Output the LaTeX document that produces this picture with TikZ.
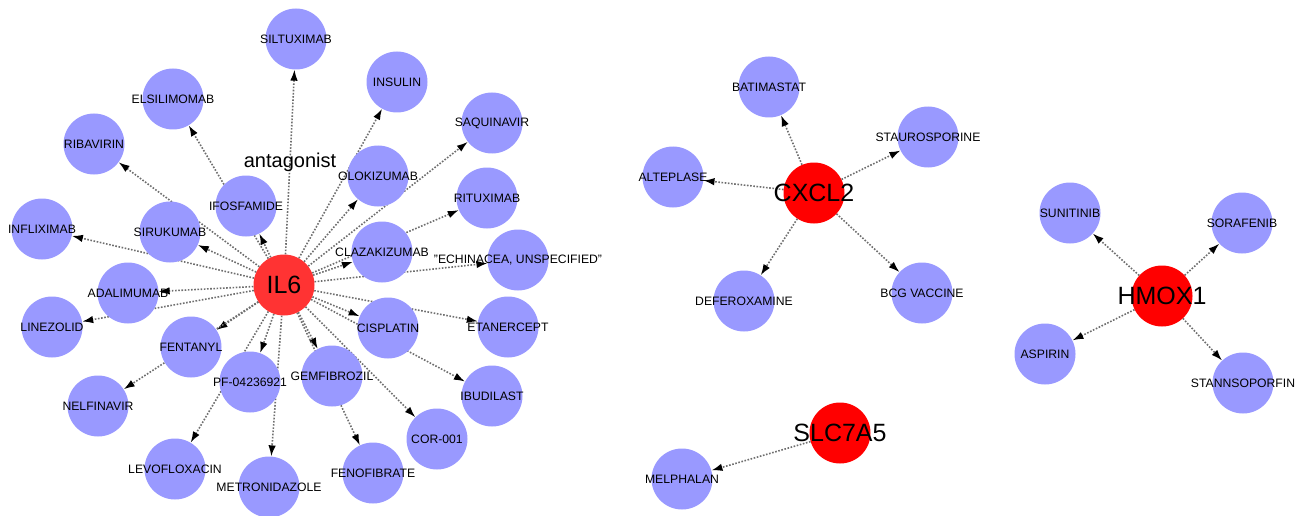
\documentclass[tikz,border=0pt]{standalone}
\usepackage{fontspec}
\setmainfont{Liberation Sans}
\usetikzlibrary{arrows.meta}
\pgfdeclarelayer{edges}
\pgfsetlayers{edges,main}
\definecolor{drug}{HTML}{9999FF}
\definecolor{gene}{HTML}{FF0000}
\definecolor{geneb}{HTML}{FF3333}
\definecolor{edgec}{HTML}{6E6E6E}
\tikzset{
  drugnode/.style={circle, fill=drug, minimum size=61pt, inner sep=0pt,
    label={[font=\fontsize{12.2}{12}\selectfont, text=black, inner sep=0pt]center:#1}},
  genenode/.style={circle, fill=gene, minimum size=61pt, inner sep=0pt,
    label={[font=\fontsize{25}{25}\selectfont, text=black, inner sep=0pt]center:#1}},
  link/.style={draw=edgec, line width=1.6pt, dash pattern=on 1.6pt off 1.6pt,
    -{Latex[length=11pt,width=7.5pt,color=black]}},
  edgelabel/.style={font=\fontsize{20}{20}\selectfont, inner sep=0pt}
}
\begin{document}
\begin{tikzpicture}[x=1pt,y=-1pt]
\useasboundingbox (0,0) rectangle (1298,516);
% IL6 cluster
\node[genenode=IL6, fill=geneb] (il6) at (284,285) {};
\node[drugnode=SILTUXIMAB] (silt) at (296,39) {};
\node[drugnode=INSULIN] (insu) at (397,82) {};
\node[drugnode=ELSILIMOMAB] (elsi) at (173,99) {};
\node[drugnode=SAQUINAVIR] (saqu) at (492,123) {};
\node[drugnode=RIBAVIRIN] (riba) at (94,144) {};
\node[drugnode=OLOKIZUMAB] (olok) at (378,176) {};
\node[drugnode=IFOSFAMIDE] (ifos) at (246,206) {};
\node[drugnode=RITUXIMAB] (ritu) at (487,198) {};
\node[drugnode=INFLIXIMAB] (infl) at (42,229) {};
\node[drugnode=SIRUKUMAB] (siru) at (170,232) {};
\node[drugnode=CLAZAKIZUMAB] (claz) at (382,252) {};
\node[drugnode={{"ECHINACEA, UNSPECIFIED"}}] (echi) at (518,260) {};
\node[drugnode=ADALIMUMAB] (adal) at (128,293) {};
\node[drugnode=LINEZOLID] (line) at (52,327) {};
\node[drugnode=ETANERCEPT] (etan) at (508,327) {};
\node[drugnode=CISPLATIN] (cisp) at (388,328) {};
\node[drugnode=FENTANYL] (fent) at (191,347) {};
\node[drugnode=PF-04236921] (pf) at (250,382) {};
\node[drugnode=GEMFIBROZIL] (gemf) at (332,376) {};
\node[drugnode=NELFINAVIR] (nelf) at (98,406) {};
\node[drugnode=IBUDILAST] (ibud) at (492,396) {};
\node[drugnode=COR-001] (cor) at (437,439) {};
\node[drugnode=LEVOFLOXACIN] (levo) at (175,469) {};
\node[drugnode=METRONIDAZOLE] (metr) at (269,487) {};
\node[drugnode=FENOFIBRATE] (feno) at (373,473) {};
% CXCL2 cluster
\node[genenode=CXCL2] (cxcl) at (814,193) {};
\node[drugnode=BATIMASTAT] (bati) at (769,87) {};
\node[drugnode=STAUROSPORINE] (stau) at (928,137) {};
\node[drugnode=ALTEPLASE] (alte) at (673,177) {};
\node[drugnode=DEFEROXAMINE] (defe) at (744,301) {};
\node[drugnode=BCG VACCINE] (bcg) at (922,293) {};
% HMOX1 cluster
\node[genenode=HMOX1] (hmox) at (1162,296) {};
\node[drugnode=SUNITINIB] (suni) at (1070,213) {};
\node[drugnode=SORAFENIB] (sora) at (1242,223) {};
\node[drugnode=ASPIRIN] (aspi) at (1045,354) {};
\node[drugnode=STANNSOPORFIN] (stan) at (1243,383) {};
% SLC7A5 cluster
\node[genenode=SLC7A5] (slc) at (840,433) {};
\node[drugnode=MELPHALAN] (melp) at (682,479) {};
\begin{pgfonlayer}{edges}
\draw[link] (il6) -- node[edgelabel, pos=0.5]{antagonist} (silt);
\foreach \t in {insu,elsi,saqu,riba,olok,ifos,ritu,infl,siru,claz,echi,adal,line,etan,cisp,fent,pf,gemf,nelf,ibud,cor,levo,metr,feno}
  \draw[link] (il6) -- (\t);
\foreach \t in {bati,stau,alte,defe,bcg}
  \draw[link] (cxcl) -- (\t);
\foreach \t in {suni,sora,aspi,stan}
  \draw[link] (hmox) -- (\t);
\draw[link] (slc) -- (melp);
\end{pgfonlayer}
\end{tikzpicture}
\end{document}
